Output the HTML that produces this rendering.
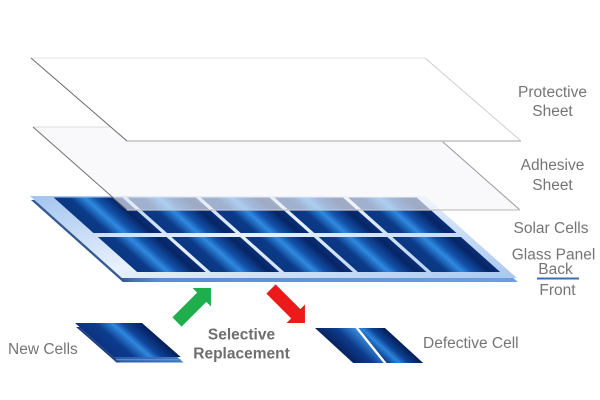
<!DOCTYPE html>
<html><head><meta charset="utf-8"><style>
html,body{margin:0;padding:0;background:#fff;}
svg{display:block;}
text{font-family:"Liberation Sans",Arial,sans-serif;fill:#757575;}
</style></head><body>
<svg width="600" height="400" viewBox="0 0 600 400" xmlns="http://www.w3.org/2000/svg">
<defs>
<linearGradient id="cell" x1="0" y1="0" x2="1" y2="0">
<stop offset="0" stop-color="#0a3782"/>
<stop offset="0.22" stop-color="#0b3a88"/>
<stop offset="0.45" stop-color="#2f8ae0"/>
<stop offset="0.6" stop-color="#1352aa"/>
<stop offset="0.85" stop-color="#062566"/>
<stop offset="1" stop-color="#0a2e74"/>
</linearGradient>
<linearGradient id="face" x1="0" y1="0" x2="1" y2="1">
<stop offset="0" stop-color="#a2c4ef"/>
<stop offset="0.45" stop-color="#e8f1fc"/>
<stop offset="1" stop-color="#a8c8f0"/>
</linearGradient>
<linearGradient id="slab" x1="0" y1="0" x2="1" y2="0">
<stop offset="0" stop-color="#33558a"/>
<stop offset="0.03" stop-color="#4670ac"/>
<stop offset="0.1" stop-color="#5a8dd4"/>
<stop offset="1" stop-color="#6b9fe2"/>
</linearGradient>
<linearGradient id="ncell" x1="0" y1="0" x2="1" y2="0">
<stop offset="0" stop-color="#0b3380"/>
<stop offset="0.3" stop-color="#0d3c8e"/>
<stop offset="0.55" stop-color="#2f88de"/>
<stop offset="0.7" stop-color="#0f449c"/>
<stop offset="1" stop-color="#041d58"/>
</linearGradient>
<linearGradient id="nslab" x1="0" y1="0" x2="1" y2="0">
<stop offset="0" stop-color="#1a3570"/>
<stop offset="0.08" stop-color="#2d5cac"/>
<stop offset="1" stop-color="#4377c8"/>
</linearGradient>
<linearGradient id="dleft" x1="0" y1="0" x2="1" y2="0">
<stop offset="0" stop-color="#072260"/>
<stop offset="0.5" stop-color="#0d3c8c"/>
<stop offset="1" stop-color="#3a8ee0"/>
</linearGradient>
<linearGradient id="dright" x1="0" y1="0" x2="1" y2="0">
<stop offset="0" stop-color="#0b3580"/>
<stop offset="0.35" stop-color="#2c84dc"/>
<stop offset="0.6" stop-color="#0e4294"/>
<stop offset="1" stop-color="#041c56"/>
</linearGradient>
</defs>

<!-- Glass panel + solar cells (sheared) -->
<g transform="matrix(1,0,1.12,1,-219.52,0)">
  <rect x="26.5" y="200" width="395" height="82" fill="url(#slab)"/>
  <rect x="30" y="196" width="395" height="82" fill="url(#face)"/>
  <rect x="52" y="197.5" width="68.6" height="35.5" fill="url(#cell)"/>
  <rect x="125.6" y="197.5" width="68.6" height="35.5" fill="url(#cell)"/>
  <rect x="199.2" y="197.5" width="68.6" height="35.5" fill="url(#cell)"/>
  <rect x="272.8" y="197.5" width="68.6" height="35.5" fill="url(#cell)"/>
  <rect x="346.4" y="197.5" width="68.6" height="35.5" fill="url(#cell)"/>
  <rect x="52" y="237" width="68.6" height="35" fill="url(#cell)"/>
  <rect x="125.6" y="237" width="68.6" height="35" fill="url(#cell)"/>
  <rect x="199.2" y="237" width="68.6" height="35" fill="url(#cell)"/>
  <rect x="272.8" y="237" width="68.6" height="35" fill="url(#cell)"/>
  <rect x="346.4" y="237" width="68.6" height="35" fill="url(#cell)"/>
</g>

<!-- Adhesive sheet -->
<polygon points="33,127 426,127 520,210 127,210" fill="rgba(246,246,249,0.64)"/>
<line x1="33" y1="127" x2="426" y2="127" stroke="#dcdcdc" stroke-width="1"/>
<line x1="33" y1="127" x2="127" y2="210" stroke="#707070" stroke-width="1"/>
<line x1="426" y1="127" x2="520" y2="210" stroke="#9a9a9a" stroke-width="1"/>
<line x1="127" y1="210" x2="520" y2="210" stroke="#c4c4c4" stroke-width="1.2"/>

<!-- Protective sheet -->
<polygon points="31,58 425,58 521,141 127,141" fill="#ffffff"/>
<line x1="31" y1="58" x2="425" y2="58" stroke="#e6e6e6" stroke-width="1"/>
<line x1="31" y1="58" x2="127" y2="141" stroke="#6a6a6a" stroke-width="1"/>
<line x1="425" y1="58" x2="521" y2="141" stroke="#cfcfcf" stroke-width="1"/>
<line x1="127" y1="141" x2="521" y2="141" stroke="#c2c2c2" stroke-width="1.4"/>

<!-- New cell -->
<g transform="matrix(1,0,1.14,1,-368.22,0)">
  <rect x="71.5" y="327" width="67" height="35.5" fill="url(#nslab)"/>
  <rect x="75" y="323" width="67" height="34" fill="url(#ncell)"/>
</g>
<line x1="116" y1="359.8" x2="181" y2="359.8" stroke="#6a9ae0" stroke-width="1"/>

<!-- Defective cell -->
<g transform="matrix(1,0,1.09,1,-357.52,0)">
  <polygon points="315,328 355.5,328 345.5,363 315,363" fill="url(#dleft)"/>
  <polygon points="358.5,328 385,328 385,363 348.5,363" fill="url(#dright)"/>
</g>

<!-- Arrows -->
<g transform="translate(177,322) rotate(-45)">
  <polygon points="0,-6.5 35,-6.5 35,-13 48,0 35,13 35,6.5 0,6.5" fill="#1fae4c"/>
</g>
<g transform="translate(271,289) rotate(45)">
  <polygon points="0,-6.5 35,-6.5 35,-13 48,0 35,13 35,6.5 0,6.5" fill="#ec1a1a"/>
</g>

<!-- Labels -->
<g font-size="15.5" text-anchor="middle">
  <text x="552.5" y="97">Protective</text>
  <text x="552.5" y="116">Sheet</text>
  <text x="552.5" y="170">Adhesive</text>
  <text x="552.5" y="190">Sheet</text>
  <text x="551" y="233">Solar Cells</text>
  <text x="553.5" y="259.5">Glass Panel</text>
  <text x="555.5" y="274">Back</text>
  <text x="557.5" y="295">Front</text>
</g>
<line x1="537" y1="278.5" x2="579" y2="278.5" stroke="#3f6cad" stroke-width="2"/>
<text x="8" y="354" font-size="15.5">New Cells</text>
<text x="423" y="348" font-size="15.5">Defective Cell</text>
<g font-size="15.5" font-weight="bold" text-anchor="middle">
  <text x="241.5" y="339.5" style="fill:#6e6e6e">Selective</text>
  <text x="241.5" y="358.5" style="fill:#6e6e6e">Replacement</text>
</g>
</svg>
</body></html>
